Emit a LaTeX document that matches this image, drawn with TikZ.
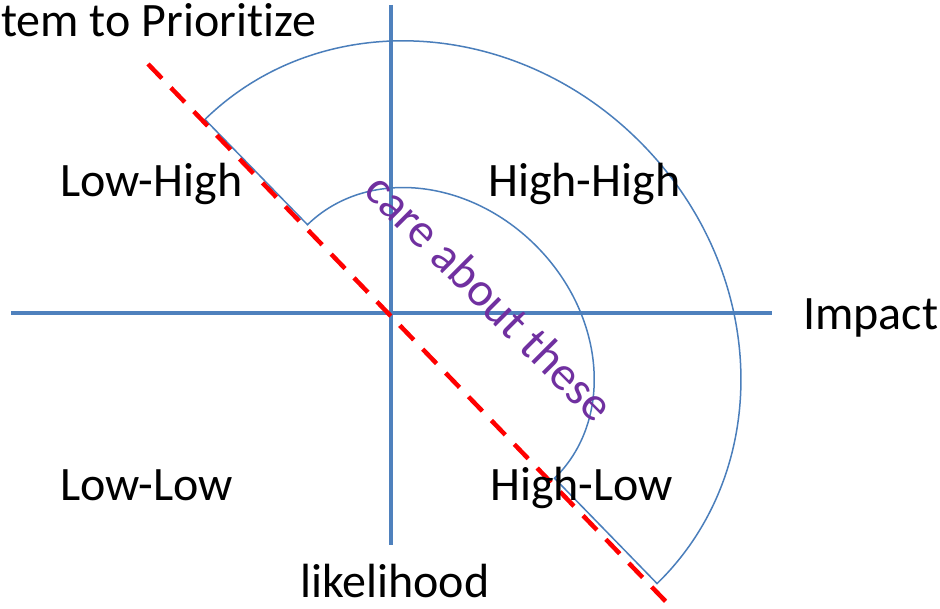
\documentclass[tikz,border=0pt]{standalone}
\usepackage{fontspec}
\setmainfont{Carlito}[Ligatures=NoCommon,RawFeature={-liga;-clig;-dlig}]
\definecolor{axisblue}{HTML}{4F81BD}
\definecolor{arcblue}{HTML}{4A7EBB}
\definecolor{carepurple}{HTML}{7030A0}
\tikzset{
  axisline/.style={draw=axisblue,line width=4pt},
  arcline/.style={draw=arcblue,line width=1.5pt,line join=miter},
  redline/.style={draw=red,line width=4.5pt,dash pattern=on 20pt off 13pt},
  lbl/.style={inner sep=0pt,anchor=base west,font=\fontsize{48}{57}\selectfont},
}
\begin{document}
\begin{tikzpicture}[x=1pt,y=1pt]
\useasboundingbox[fill=white] (0,0) rectangle (940,609);
% axes
\coordinate (vtop) at (391,604);
\coordinate (vbot) at (391,64);
\coordinate (hleft) at (11,296);
\coordinate (hright) at (772,296);
\draw[axisline] (vtop) -- (vbot);
\draw[axisline] (hleft) -- (hright);
% half annulus (block arc)
\begin{scope}[shift={(431,257.5)},rotate=-45.75]
\draw[arcline] (-324,0) arc[start angle=180,end angle=0,x radius=324,y radius=296]
  -- (177,0) arc[start angle=0,end angle=180,x radius=177,y radius=149] -- cycle;
\end{scope}
% red dashed line
\coordinate (rstart) at (148,545);
\coordinate (rend) at (673,0);
\draw[redline] (rstart) -- (rend);
% labels
\node[lbl] (title) at (1,572) {tem to Priorit\kern0pt ize};
\node[lbl] (lh) at (60,412) {Low-High};
\node[lbl] (hh) at (488,412) {High-High};
\node[lbl] (imp) at (803,279) {Impact};
\node[lbl] (ll) at (60,108) {Low-Low};
\node[lbl] (hl) at (490,108) {High-Low};
\node[lbl] (lik) at (300,11) {likelihood};
\node[inner sep=0pt,text=carepurple,rotate=-45,font=\fontsize{48}{57}\selectfont] (care) at (490,312) {care about these};
\end{tikzpicture}
\end{document}
